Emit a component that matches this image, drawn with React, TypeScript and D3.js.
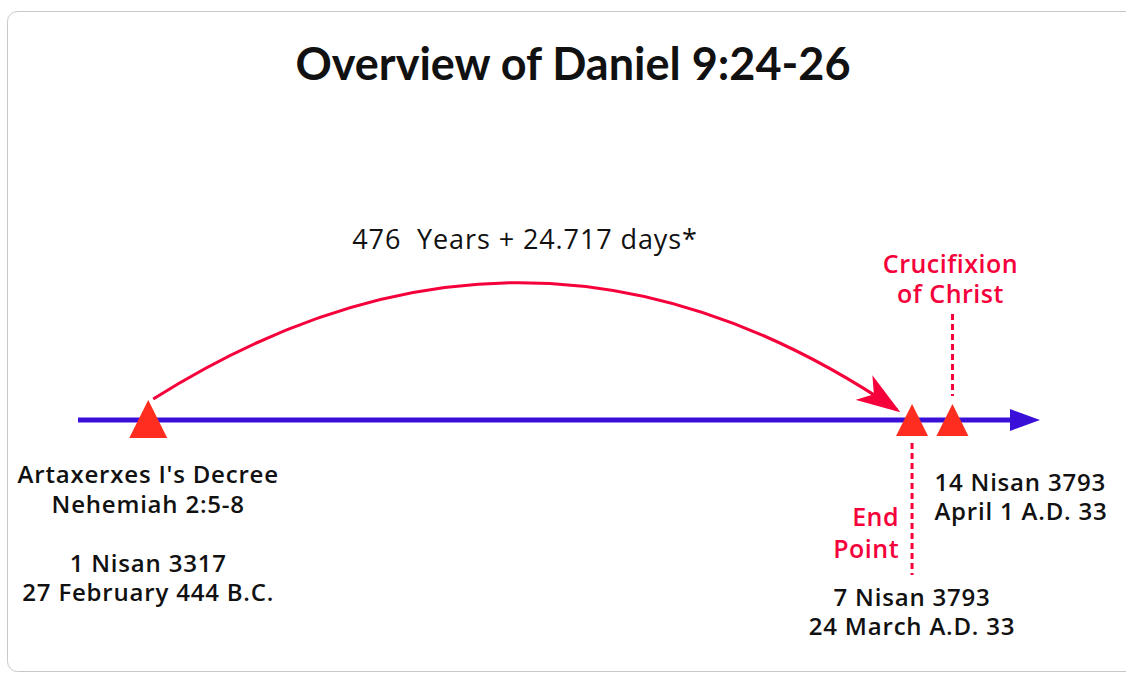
import React, { useEffect, useRef } from 'react';
import * as d3 from 'd3';

// Timeline events (schematic position along the line, 0-1000)
const eventNames = ["Artaxerxes I's Decree", 'End Point', 'Crucifixion of Christ'];
const eventPos = [73, 867, 909];

// Text under / around each event
const decreeLines = ["Artaxerxes I's Decree", 'Nehemiah 2:5-8', '', '1 Nisan 3317', '27 February 444 B.C.'];
const endDateLines = ['7 Nisan 3793', '24 March A.D. 33'];
const crucifixionDateLines = ['14 Nisan 3793', 'April 1 A.D. 33'];
const endLabelLines = ['End', 'Point'];
const crucifixionLabelLines = ['Crucifixion', 'of Christ'];
const spanLabel = '476\u00a0 Years + 24.717 days*';
const title = 'Overview of Daniel 9:24-26';

const App = () => {
  const ref = useRef<SVGSVGElement>(null);

  useEffect(() => {
    const lineY = 420;

    const svg = d3.select(ref.current);
    svg.selectAll('*').remove();

    const x = d3.scaleLinear().domain([0, 1000]).range([78, 1040]);

    const defs = svg.append('defs');
    defs.append('marker')
      .attr('id', 'axisHead')
      .attr('viewBox', '0 0 30 22')
      .attr('refX', 2)
      .attr('refY', 11)
      .attr('markerWidth', 30)
      .attr('markerHeight', 22)
      .attr('markerUnits', 'userSpaceOnUse')
      .attr('orient', 'auto')
      .append('path')
      .attr('d', 'M0,0 L30,11 L0,22 Z')
      .attr('fill', '#3a10d8');

    defs.append('marker')
      .attr('id', 'arcHead')
      .attr('viewBox', '0 0 44 30')
      .attr('refX', 40)
      .attr('refY', 15)
      .attr('markerWidth', 44)
      .attr('markerHeight', 30)
      .attr('markerUnits', 'userSpaceOnUse')
      .attr('orient', 'auto')
      .append('path')
      .attr('d', 'M0,0 L44,15 L0,30 L12,15 Z')
      .attr('fill', '#f5003a');

    // card
    svg.append('rect')
      .attr('x', 7.5)
      .attr('y', 11.5)
      .attr('width', 1140)
      .attr('height', 660)
      .attr('rx', 10)
      .attr('fill', '#fff')
      .attr('stroke', '#c8c8c8');

    // title
    svg.append('text')
      .attr('x', 573)
      .attr('y', 80)
      .attr('text-anchor', 'middle')
      .style('font-family', 'Lato, sans-serif')
      .style('font-weight', 700)
      .style('font-size', '45px')
      .attr('fill', '#111')
      .text(title);

    // main timeline
    svg.append('line')
      .attr('x1', x(0))
      .attr('x2', x(1000) - 28)
      .attr('y1', lineY)
      .attr('y2', lineY)
      .attr('stroke', '#3a10d8')
      .attr('stroke-width', 5)
      .attr('marker-end', 'url(#axisHead)');

    // arc from decree to end point
    const x0 = x(eventPos[0]) + 5;
    const x1 = x(eventPos[1]) - 15;
    const p = d3.path();
    p.moveTo(x0, lineY - 21);
    p.quadraticCurveTo((x0 + x1) / 2 + 5, 161, x1, lineY - 10);
    svg.append('path')
      .attr('d', p.toString())
      .attr('fill', 'none')
      .attr('stroke', '#f5003a')
      .attr('stroke-width', 3)
      .attr('marker-end', 'url(#arcHead)');

    svg.append('text')
      .attr('x', 525)
      .attr('y', 249)
      .attr('text-anchor', 'middle')
      .style('font-family', '"Open Sans", sans-serif')
      .style('font-size', '27px')
      .style('letter-spacing', '0.9px')
      .attr('fill', '#111')
      .text(spanLabel);

    // dotted guides
    svg.append('line')
      .attr('x1', x(eventPos[2])).attr('x2', x(eventPos[2]))
      .attr('y1', 314).attr('y2', 396)
      .attr('stroke', '#f5003a').attr('stroke-width', 3)
      .attr('stroke-dasharray', '6 4');
    svg.append('line')
      .attr('x1', x(eventPos[1])).attr('x2', x(eventPos[1]))
      .attr('y1', 443).attr('y2', 575)
      .attr('stroke', '#f5003a').attr('stroke-width', 3)
      .attr('stroke-dasharray', '6 4');

    // triangles
    const sizes = [38, 32, 32];
    svg.selectAll('path.tri')
      .data(eventNames)
      .enter()
      .append('path')
      .attr('class', 'tri')
      .attr('d', (d, i) => {
        const s = sizes[i];
        const cx = x(eventPos[i]);
        const base = i === 0 ? 438 : 436;
        return `M${cx},${base - s} L${cx + s / 2},${base} L${cx - s / 2},${base} Z`;
      })
      .attr('fill', '#ff2d20');

    const block = (lines, cx, y0, anchor, color, size, weight, gap, ls) => {
      const t = svg.append('text')
        .attr('text-anchor', anchor)
        .style('font-family', '"Open Sans", sans-serif')
        .style('font-size', `${size}px`)
        .style('font-weight', weight)
        .style('letter-spacing', `${ls}px`)
        .attr('fill', color);
      lines.forEach((l, i) => {
        t.append('tspan').attr('x', cx).attr('y', y0 + i * gap).text(l);
      });
    };

    block(decreeLines, x(eventPos[0]), 483, 'middle', '#111', 24, 600, 29.5, 0.8);
    block(endDateLines, x(eventPos[1]), 606, 'middle', '#111', 24, 600, 28.5, 0.8);
    block(crucifixionDateLines, x(eventPos[2]) - 18, 491, 'start', '#111', 24, 600, 29, 0.8);
    block(endLabelLines, x(eventPos[1]) - 13, 526, 'end', '#f5003a', 25, 600, 32, 0.5);
    block(crucifixionLabelLines, x(eventPos[2]) - 2, 273, 'middle', '#f5003a', 25, 600, 30, 0.5);
  }, []);

  return (
    <svg ref={ref} width={1126} height={673} style={{ position: 'absolute', left: 0, top: 0 }}></svg>
  );
};

export default App;
